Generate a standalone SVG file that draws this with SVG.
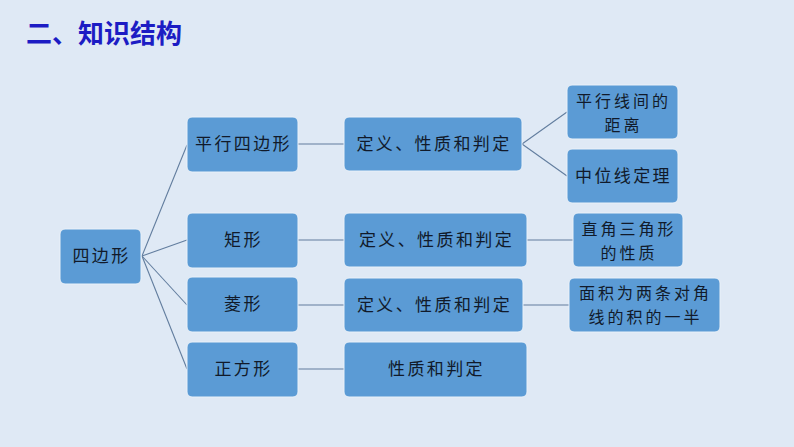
<svg xmlns="http://www.w3.org/2000/svg" width="794" height="447" viewBox="0 0 794 447">
<style>
.bg{fill:#dfe9f5}
.box{fill:#5b9bd5;stroke:#eaf1f9;stroke-width:1}
.t{font-family:"Noto Sans CJK SC","Noto Sans CJK JP",sans-serif;font-size:17px;fill:#111a2a;text-anchor:middle;letter-spacing:2.4px}
.s{font-size:16px;letter-spacing:3px}
.title{font-family:"Noto Sans CJK SC",sans-serif;font-size:26px;font-weight:bold;fill:#1c1cc4}
.c line{stroke:#627d9e;stroke-width:1.1}
</style>
<rect class="bg" x="0" y="0" width="794" height="447"/>
<text class="title" x="26" y="43">二、知识结构</text>
<g class="c" id="connectors">
<line x1="142" y1="256" x2="187" y2="145"/>
<line x1="142" y1="256" x2="187" y2="240"/>
<line x1="142" y1="256" x2="187" y2="305"/>
<line x1="142" y1="256" x2="187" y2="369"/>
<line x1="298" y1="144" x2="344" y2="144"/>
<line x1="298" y1="240" x2="344" y2="240"/>
<line x1="298" y1="305" x2="344" y2="305"/>
<line x1="298" y1="369" x2="344" y2="369"/>
<line x1="522" y1="144" x2="567" y2="112"/>
<line x1="522" y1="144" x2="567" y2="176"/>
<line x1="527" y1="240" x2="573" y2="240"/>
<line x1="523" y1="305" x2="569" y2="305"/>
</g>
<g id="n-sbx"><rect class="box" x="60" y="229" width="81" height="55" rx="5"/><text class="t" x="101.5" y="262">四边形</text></g>
<g id="n-pxsbx"><rect class="box" x="187" y="117" width="111" height="55" rx="5"/><text class="t" x="243.5" y="150">平行四边形</text></g>
<g id="n-jx"><rect class="box" x="187" y="213" width="111" height="55" rx="5"/><text class="t" x="243.5" y="246">矩形</text></g>
<g id="n-lx"><rect class="box" x="187" y="277" width="111" height="55" rx="5"/><text class="t" x="243.5" y="310">菱形</text></g>
<g id="n-zfx"><rect class="box" x="187" y="342" width="111" height="55" rx="5"/><text class="t" x="243.5" y="375">正方形</text></g>
<g id="n-d1"><rect class="box" x="344" y="117" width="178" height="54" rx="5"/><text class="t" x="434" y="150">定义、性质和判定</text></g>
<g id="n-d2"><rect class="box" x="344" y="213" width="183" height="54" rx="5"/><text class="t" x="436.5" y="246">定义、性质和判定</text></g>
<g id="n-d3"><rect class="box" x="344" y="278" width="179" height="54" rx="5"/><text class="t" x="434.5" y="311">定义、性质和判定</text></g>
<g id="n-d4"><rect class="box" x="344" y="342" width="183" height="55" rx="5"/><text class="t" x="436.5" y="375">性质和判定</text></g>
<g id="n-r1"><rect class="box" x="567" y="85" width="111" height="54" rx="5"/><text class="t s" x="623.5" y="107">平行线间的</text><text class="t s" x="623.5" y="131">距离</text></g>
<g id="n-r2"><rect class="box" x="567" y="149" width="111" height="54" rx="5"/><text class="t" x="623.5" y="182">中位线定理</text></g>
<g id="n-r3"><rect class="box" x="573" y="213" width="110" height="54" rx="5"/><text class="t s" x="629" y="235">直角三角形</text><text class="t s" x="629" y="259">的性质</text></g>
<g id="n-r4"><rect class="box" x="569" y="278" width="151" height="54" rx="5"/><text class="t s" x="645.5" y="299">面积为两条对角</text><text class="t s" x="645.5" y="323">线的积的一半</text></g>
</svg>
